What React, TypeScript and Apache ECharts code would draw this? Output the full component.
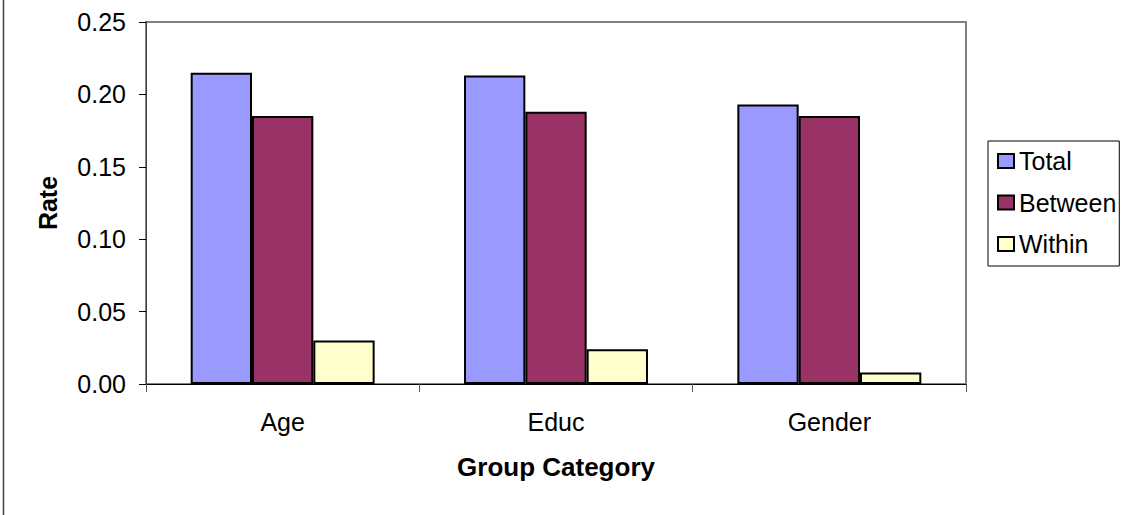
import React, { useEffect, useRef } from "react";
import * as echarts from "echarts";

const categories = ["Age", "Educ", "Gender"];
const totalValues = [0.215, 0.213, 0.193];
const betweenValues = [0.185, 0.188, 0.185];
const withinValues = [0.030, 0.024, 0.008];
const yTicks = { min: 0, max: 0.25, interval: 0.05 };

const FONT = '"Liberation Sans", Arial, sans-serif';

export default function App() {
  const ref = useRef<HTMLDivElement>(null);
  useEffect(() => {
    document.body.style.margin = "0";
    const chart = echarts.init(ref.current!, null, { renderer: "svg" });
    const barStyle = (color: string) => ({
      color,
      borderColor: "#000",
      borderWidth: 2,
    });
    chart.setOption({
      animation: false,
      backgroundColor: "#fff",
      textStyle: { fontFamily: FONT },
      grid: {
        left: 146,
        top: 22,
        right: 162,
        bottom: 131,
        show: true,
        borderColor: "#808080",
        borderWidth: 2,
        backgroundColor: "transparent",
      },
      legend: {
        orient: "vertical",
        left: 988,
        top: 141,
        padding: [6, 3, 8, 9],
        itemGap: 13.5,
        itemWidth: 16,
        itemHeight: 14,
        icon: "rect",
        borderColor: "#000",
        borderWidth: 1,
        textStyle: { fontSize: 25, color: "#000", fontFamily: FONT, lineHeight: 28 },
        data: ["Total", "Between", "Within"],
      },
      xAxis: {
        type: "category",
        data: categories,
        name: "Group Category",
        nameLocation: "middle",
        nameGap: 70,
        nameTextStyle: { fontSize: 26, fontWeight: "bold", color: "#000", fontFamily: FONT },
        axisLine: { lineStyle: { color: "#000", width: 1 } },
        axisTick: { show: true, length: 8, lineStyle: { color: "#555" } },
        axisLabel: { fontSize: 25, color: "#000", margin: 25, fontFamily: FONT },
      },
      yAxis: {
        type: "value",
        min: yTicks.min,
        max: yTicks.max,
        interval: yTicks.interval,
        name: "Rate",
        nameLocation: "middle",
        nameGap: 86,
        nameTextStyle: { fontSize: 25, fontWeight: "bold", color: "#000", fontFamily: FONT },
        axisLine: { show: true, lineStyle: { color: "#404040", width: 1 } },
        axisTick: { show: true, length: 7, lineStyle: { color: "#000" } },
        axisLabel: {
          fontSize: 25,
          color: "#000",
          margin: 20,
          fontFamily: FONT,
          formatter: (v: number) => v.toFixed(2),
        },
        splitLine: { show: false },
      },
      graphic: [
        {
          type: "line",
          shape: { x1: 3.5, y1: 0, x2: 3.5, y2: 515 },
          style: { stroke: "#404040", lineWidth: 1.5 },
        },
      ],
      series: [
        {
          name: "Total",
          type: "bar",
          data: totalValues,
          itemStyle: barStyle("#9999FF"),
          barGap: "0%",
          barCategoryGap: "32.7%",
        },
        {
          name: "Between",
          type: "bar",
          data: betweenValues,
          itemStyle: barStyle("#993366"),
          barGap: "0%",
          barCategoryGap: "32.7%",
        },
        {
          name: "Within",
          type: "bar",
          data: withinValues,
          itemStyle: barStyle("#FFFFCC"),
          barGap: "0%",
          barCategoryGap: "32.7%",
        },
      ],
    });
    return () => chart.dispose();
  }, []);
  return <div ref={ref} style={{ width: 1128, height: 515 }} />;
}
